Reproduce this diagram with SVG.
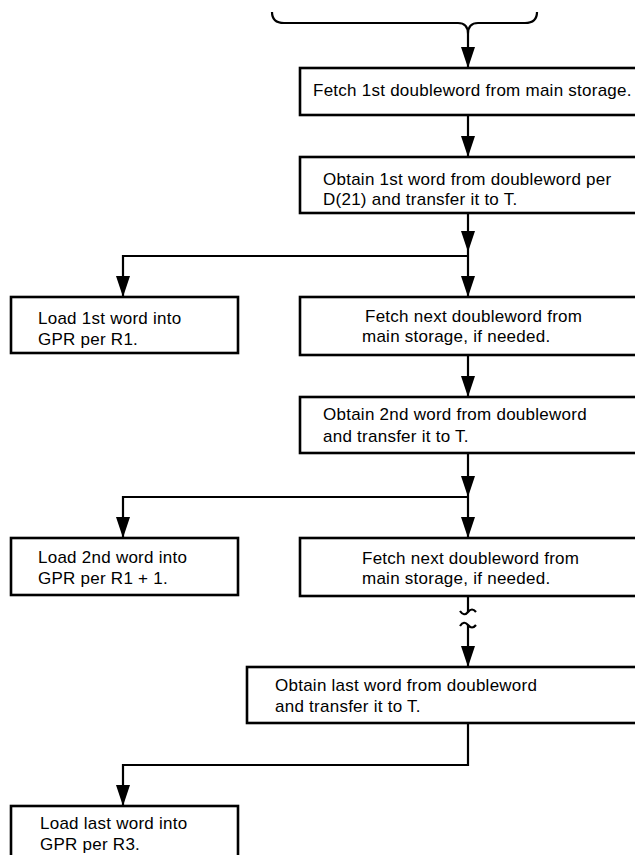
<svg xmlns="http://www.w3.org/2000/svg" xmlns:xlink="http://www.w3.org/1999/xlink" width="635" height="855" viewBox="0 0 635 855">
  <style>
    .box { fill: #fff; stroke: #000; stroke-width: 2.6; }
    .lbl { font-family: "Liberation Sans", Arial, sans-serif; font-size: 17px; letter-spacing: 0.25px; fill: #000; }
    .ln { fill: none; stroke: #000; stroke-width: 2.2; }
  </style>
  <defs>
    <!-- filled arrowhead, tip at the origin, pointing down -->
    <path id="ah" d="M-7,-21 L7,-21 L0,0 Z" fill="#000"/>
  </defs>
  <rect width="635" height="855" fill="#fff"/>

  <g id="connectors">
    <!-- entry brace -->
    <path class="ln" d="M272,12 Q272,23 284,23 L458,23 Q468,23 468,34 Q468,23 478,23 L525,23 Q537,23 537,12"/>
    <path class="ln" d="M468,34 V68"/>
    <use xlink:href="#ah" x="468" y="68"/>

    <path class="ln" d="M468,115 V157"/>
    <use xlink:href="#ah" x="468" y="157"/>

    <!-- first branch -->
    <path class="ln" d="M468,213 V297"/>
    <use xlink:href="#ah" x="468" y="252"/>
    <use xlink:href="#ah" x="468" y="297"/>
    <path class="ln" d="M468,256 H123 V297"/>
    <use xlink:href="#ah" x="123" y="297"/>

    <path class="ln" d="M468,355 V397"/>
    <use xlink:href="#ah" x="468" y="397"/>

    <!-- second branch -->
    <path class="ln" d="M468,453 V538"/>
    <use xlink:href="#ah" x="468" y="497"/>
    <use xlink:href="#ah" x="468" y="538"/>
    <path class="ln" d="M468,497 H123 V538"/>
    <use xlink:href="#ah" x="123" y="538"/>

    <!-- broken flow line -->
    <path class="ln" d="M468,596 V612"/>
    <path class="ln" d="M460,611 Q464,617 468,612 Q472,607 476,612"/>
    <path class="ln" d="M460,626 Q464,620 468,625 Q472,630 476,625"/>
    <path class="ln" d="M468,625 V667"/>
    <use xlink:href="#ah" x="468" y="667"/>

    <!-- last branch -->
    <path class="ln" d="M468,723 V765 H123 V806"/>
    <use xlink:href="#ah" x="123" y="806"/>
  </g>

  <g id="fetch-first">
    <rect class="box" x="300" y="68" width="337" height="47"/>
    <text class="lbl" x="313" y="96">Fetch 1st doubleword from main storage.</text>
  </g>

  <g id="obtain-first">
    <rect class="box" x="300" y="157" width="337" height="56"/>
    <text class="lbl" x="323" y="185">Obtain 1st word from doubleword per</text>
    <text class="lbl" x="323" y="205">D(21) and transfer it to T.</text>
  </g>

  <g id="load-first">
    <rect class="box" x="11" y="297" width="227" height="56"/>
    <text class="lbl" x="38" y="324">Load 1st word into</text>
    <text class="lbl" x="38" y="345">GPR per R1.</text>
  </g>

  <g id="fetch-next-1">
    <rect class="box" x="300" y="297" width="337" height="58"/>
    <text class="lbl" x="365" y="322">Fetch next doubleword from</text>
    <text class="lbl" x="362" y="342">main storage, if needed.</text>
  </g>

  <g id="obtain-second">
    <rect class="box" x="300" y="397" width="337" height="56"/>
    <text class="lbl" x="323" y="420">Obtain 2nd word from doubleword</text>
    <text class="lbl" x="323" y="442">and transfer it to T.</text>
  </g>

  <g id="load-second">
    <rect class="box" x="11" y="538" width="227" height="57"/>
    <text class="lbl" x="38" y="563">Load 2nd word into</text>
    <text class="lbl" x="38" y="584">GPR per R1 + 1.</text>
  </g>

  <g id="fetch-next-2">
    <rect class="box" x="300" y="538" width="337" height="58"/>
    <text class="lbl" x="362" y="564">Fetch next doubleword from</text>
    <text class="lbl" x="362" y="584">main storage, if needed.</text>
  </g>

  <g id="obtain-last">
    <rect class="box" x="247" y="667" width="450" height="56"/>
    <text class="lbl" x="275" y="691">Obtain last word from doubleword</text>
    <text class="lbl" x="275" y="712">and transfer it to T.</text>
  </g>

  <g id="load-last">
    <rect class="box" x="11" y="806" width="227" height="60"/>
    <text class="lbl" x="40" y="829">Load last word into</text>
    <text class="lbl" x="40" y="850">GPR per R3.</text>
  </g>
</svg>
